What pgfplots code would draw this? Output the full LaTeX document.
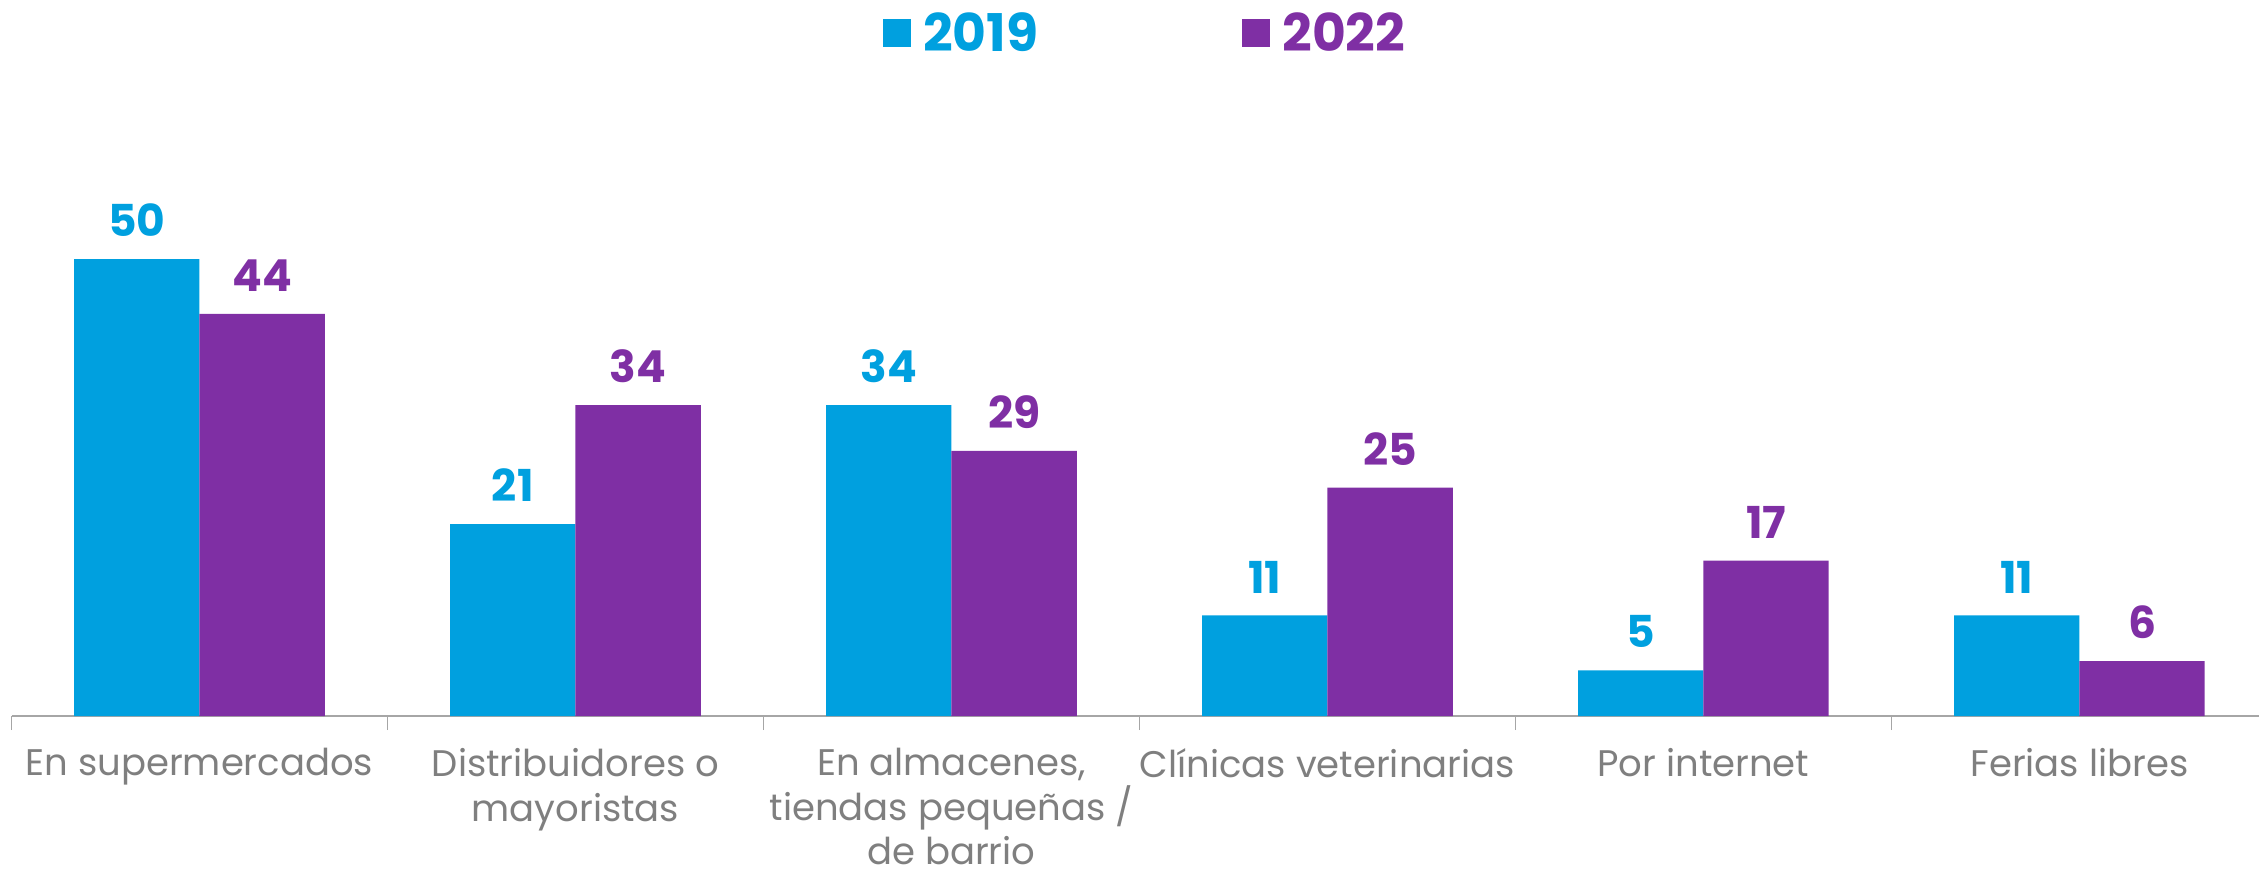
\documentclass[border=0pt]{standalone}
\usepackage{pgfplots}
\pgfplotsset{compat=1.18}
\usepackage{fontspec}
\setmainfont{Poppins}
\definecolor{cblue}{HTML}{00A0DF}
\definecolor{cpurp}{HTML}{7F2FA4}
\definecolor{lblgray}{HTML}{7F7F7F}
\definecolor{axgray}{HTML}{A6A6A6}
\begin{document}
\begin{tikzpicture}
\begin{axis}[
  at={(0pt,0pt)}, anchor=south west,
  width=1128pt, height=274.2pt, scale only axis,
  xmin=-0.5, xmax=5.5, ymin=0, ymax=60,
  ybar=0pt, bar width=0.3333,
  axis x line=bottom, axis y line=none,
  x axis line style={-, draw=axgray, line width=0.75pt},
  /pgf/number format/assume math mode=true,
  xtick={0,1,2,3,4,5},
  xticklabels={En supermercados, {Distribuidores o\\mayoristas}, {En almacenes,\\tiendas pequeñas /\\de barrio}, Clínicas veterinarias, Por internet, Ferias libres},
  major tick length=0pt,
  xticklabel style={font=\fontsize{18.5}{22.3}\selectfont, text=lblgray, align=center, anchor=north, inner sep=0pt, yshift=-16pt},
  extra x ticks={-0.5,0.5,1.5,2.5,3.5,4.5,5.5},
  extra x tick labels={},
  extra x tick style={major tick length=7pt, tick align=outside, tick style={draw=axgray, line width=0.75pt}},
  legend style={at={(0.5048,1.245)}, anchor=center, draw=none, fill=none,
    legend columns=2, font=\fontsize{26}{30}\selectfont\bfseries,
    /tikz/every even column/.append style={column sep=96pt},
    nodes={inner xsep=6pt}},
  clip=false,
]
\addplot[fill=cblue, draw=none, nodes near coords,
  every node near coord/.append style={text=cblue, font=\fontsize{22}{26}\selectfont\bfseries, anchor=south, inner sep=0pt, yshift=11pt},
  legend image code/.code={\fill[cblue] (0pt,-7pt) rectangle (14pt,7pt);}]
  coordinates {(0,50) (1,21) (2,34) (3,11) (4,5) (5,11)};
\addplot[fill=cpurp, draw=none, nodes near coords,
  every node near coord/.append style={text=cpurp, font=\fontsize{22}{26}\selectfont\bfseries, anchor=south, inner sep=0pt, yshift=11pt},
  legend image code/.code={\fill[cpurp] (0pt,-7pt) rectangle (14pt,7pt);}]
  coordinates {(0,44) (1,34) (2,29) (3,25) (4,17) (5,6)};
\legend{\textcolor{cblue}{2019}, \textcolor{cpurp}{2022}}
\end{axis}
\pgfresetboundingbox
\useasboundingbox (-5.75pt,-78pt) rectangle (1123.75pt,358pt);
\end{tikzpicture}
\end{document}
